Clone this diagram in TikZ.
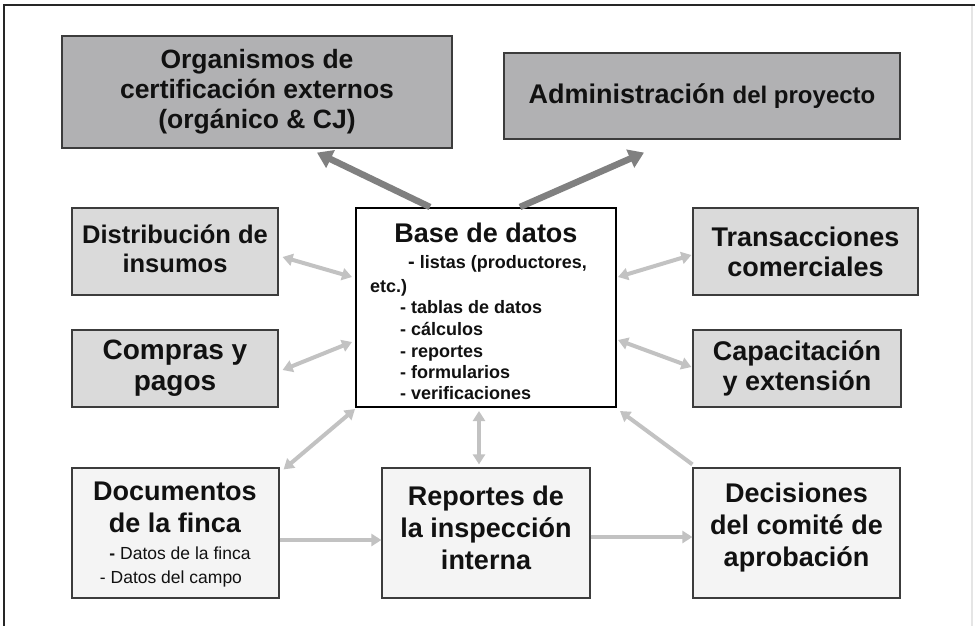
\documentclass[tikz,border=0pt]{standalone}
\usepackage{fontspec}
\setmainfont{Liberation Sans}
\usetikzlibrary{arrows.meta,calc}
\definecolor{topfill}{HTML}{B1B1B3}
\definecolor{sidefill}{HTML}{DADADA}
\definecolor{botfill}{HTML}{F4F4F4}
\definecolor{boxline}{HTML}{3C3C3C}
\definecolor{bigarrow}{HTML}{808080}
\definecolor{smallarrow}{HTML}{C2C2C2}
\definecolor{txt}{HTML}{111111}
\begin{document}
\begin{tikzpicture}[x=1pt,y=-1pt,
  box/.style={draw=boxline, line width=1.2pt, inner sep=0pt, align=center, text=txt},
  topbox/.style={box, fill=topfill},
  sidebox/.style={box, fill=sidefill},
  botbox/.style={box, fill=botfill},
  lbl/.style={inner sep=0pt, text=txt},
  bigarr/.style={draw=bigarrow, line width=6.5pt, -{Triangle[width=19pt,length=15pt]}},
  smallarr/.style={draw=smallarrow, line width=4pt, {Triangle[width=12pt,length=10pt]}-{Triangle[width=12pt,length=10pt]}},
  onearr/.style={draw=smallarrow, line width=4pt, -{Triangle[width=12pt,length=10pt]}}
  ]
\useasboundingbox (0,0) rectangle (975,625);
\fill[white] (0,0) rectangle (975,625);
% frame
\draw[black!85, line width=2pt] (4,630) -- (4,5) -- (976,5);
\draw[black!10, line width=1.5pt] (972,6) -- (972,630);

% boxes
\node[topbox, minimum width=390pt, minimum height=112pt, font=\bfseries\fontsize{26.5}{30}\selectfont] (org) at (257,92) {Organismos de\\certificación externos\\(orgánico \& CJ)};
\node[topbox, minimum width=396pt, minimum height=86pt, font=\bfseries\fontsize{27}{30}\selectfont] (adm) at (702,96) {Administración {\fontsize{24}{28}\selectfont del proyecto}};
\node[sidebox, minimum width=206pt, minimum height=87pt] (dist) at (175,251.5) {};
\node[lbl, align=center, font=\bfseries\fontsize{25.5}{29}\selectfont] (distT) at ($(dist.center)+(0,-3)$) {Distribución de\\insumos};
\node[sidebox, minimum width=206pt, minimum height=77pt, font=\bfseries\fontsize{28}{31}\selectfont] (comp) at (175,368.5) {Compras y\\pagos};
\node[sidebox, minimum width=225pt, minimum height=87pt, font=\bfseries\fontsize{27}{30}\selectfont] (trans) at (805.5,251.5) {Transacciones\\comerciales};
\node[sidebox, minimum width=208pt, minimum height=77pt, font=\bfseries\fontsize{27}{30}\selectfont] (cap) at (797,368.5) {Capacitación\\y extensión};
\node[draw=black, line width=2pt, fill=white, minimum width=260pt, minimum height=199pt, inner sep=0pt] (base) at (486,307.5) {};
\node[botbox, minimum width=207pt, minimum height=130pt] (doc) at (175.5,533) {};
\node[botbox, minimum width=208pt, minimum height=130pt] (rep) at (486,533) {};
\node[lbl, align=center, font=\bfseries\fontsize{27}{32}\selectfont] (repT) at ($(rep.center)+(0,-5)$) {Reportes de\\la inspección\\interna};
\node[botbox, minimum width=207pt, minimum height=130pt] (dec) at (796.5,533) {};
\node[lbl, align=center, font=\bfseries\fontsize{27}{32}\selectfont] (decT) at ($(dec.center)+(0,-5)$) {Decisiones\\del comité de\\aprobación};

% base de datos text
\node[lbl, anchor=base, font=\bfseries\fontsize{27}{30}\selectfont] (btitle) at (486,242) {Base de datos};
\begin{scope}[every node/.style={lbl, anchor=base west, font=\bfseries\fontsize{18}{22}\selectfont}]
\node (bl1) at (408,268) {{\fontsize{20}{22}\selectfont -} listas (productores,};
\node (bl2) at (370,292) {etc.)};
\node (bl3) at (400,313) {- tablas de datos};
\node (bl4) at (400,335) {- cálculos};
\node (bl5) at (400,357) {- reportes};
\node (bl6) at (400,378) {- formularios};
\node (bl7) at (400,399) {- verificaciones};
\end{scope}

% documentos text
\node[lbl, anchor=base, font=\bfseries\fontsize{27}{32}\selectfont] (dt1) at (175,500) {Documentos};
\node[lbl, anchor=base, font=\bfseries\fontsize{27}{32}\selectfont] (dt2) at (175,532) {de la finca};
\node[lbl, anchor=base, font=\fontsize{17.5}{22}\selectfont] (ds1) at (180,559) {\textbf{-} Datos de la finca};
\node[lbl, anchor=base, font=\fontsize{17.5}{22}\selectfont] (ds2) at (171,583) {- Datos del campo};

% big arrows
\draw[bigarr] ($(base.north)+(-56,0)$) -- ($(org.south)+(60,4)$);
\draw[bigarr] ($(base.north)+(34,0)$) -- ($(adm.south)+(-58,13)$);

% small arrows
\draw[smallarr] ($(dist.east)+(4,5.5)$) -- ($(base.west)+(-3,-30.5)$);
\draw[smallarr] ($(comp.east)+(4,1.5)$) -- ($(base.west)+(-3,34.5)$);
\draw[smallarr] ($(base.east)+(1,-30.5)$) -- ($(trans.west)+(-1,3.5)$);
\draw[smallarr] ($(base.east)+(1,32.5)$) -- ($(cap.west)+(-1,-1.5)$);
\draw[smallarr] ($(doc.north east)+(4,2)$) -- ($(base.south west)+(0,1)$);
\draw[smallarr] ($(rep.north)+(-7,-3)$) -- ($(base.south)+(-7,3)$);
\draw[onearr] ($(dec.north west)+(0,-3)$) -- ($(base.south east)+(3,3)$);
\draw[onearr] ($(doc.east)+(0,7)$) -- ($(rep.west)+(0,7)$);
\draw[onearr] ($(rep.east)+(0,4)$) -- ($(dec.west)+(0,4)$);
\end{tikzpicture}
\end{document}
